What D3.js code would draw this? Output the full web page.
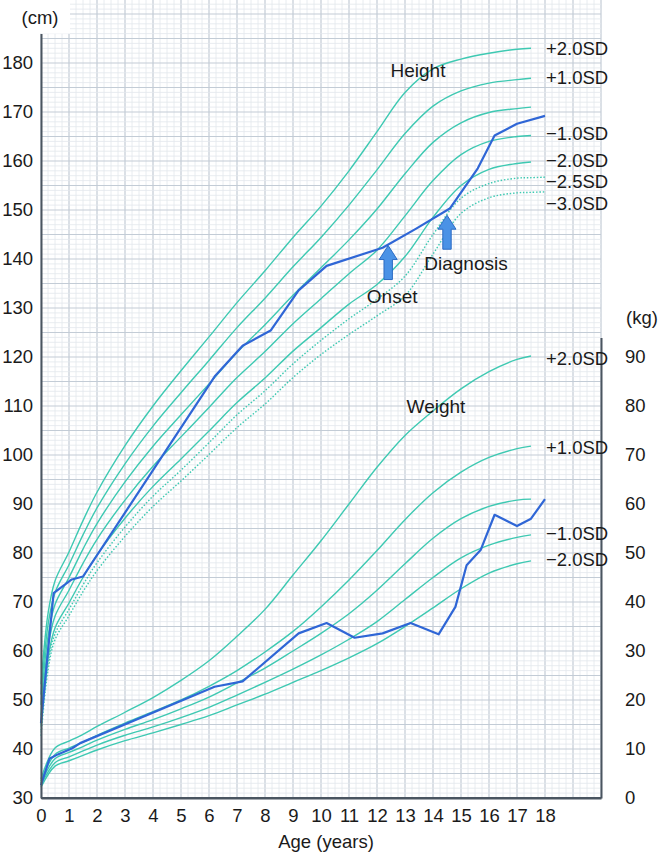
<!DOCTYPE html>
<html><head><meta charset="utf-8">
<script src="https://cdn.jsdelivr.net/npm/d3@7"></script>
<style>body{margin:0;background:#fff;}svg{display:block;font-family:"Liberation Sans",Arial,sans-serif;}</style>
</head><body><svg id="c" width="658" height="853"></svg>
<script>
// ---- data ----
const ageH = [0,0.25,0.5,1,1.5,2,3,4,5,6,7,8,9,10,11,12,13,14,15,16,17,17.5];
const ageHx = [0,0.25,0.5,1,1.5,2,3,4,5,6,7,8,9,10,11,12,13,14,15,16,17,17.5,18];
const hP2  = [53.2,67.6,74.3,80.2,86.6,92.4,101.9,110.0,117.2,124.1,131.1,137.6,144.4,150.8,158.0,166.0,174.0,178.8,180.8,182.0,182.8,183.0];
const hP1  = [51.1,65.3,71.9,77.6,83.7,89.2,98.2,105.9,112.7,119.3,126.0,132.0,138.4,144.4,151.0,158.2,165.6,171.2,174.3,175.9,176.6,176.9];
const hMean= [49.0,63.0,69.5,75.0,80.8,86.0,94.5,101.8,108.2,114.5,120.9,126.6,132.6,138.2,143.9,150.2,157.4,163.8,167.8,169.9,170.7,171.0];
const hM1  = [46.9,60.7,67.1,72.4,77.9,82.8,90.8,97.7,103.7,109.7,115.8,121.1,126.8,131.9,137.0,141.8,148.8,156.0,161.3,164.0,165.0,165.2];
const hM2  = [44.8,58.4,64.7,69.8,75.0,79.6,87.1,93.6,99.2,104.9,110.7,115.7,121.2,126.0,130.8,134.8,140.5,148.5,155.0,158.3,159.5,159.8];
const hM25 = [43.8,57.3,63.5,68.5,73.5,78.0,85.3,91.6,96.9,102.5,108.2,113.1,118.6,123.4,127.8,131.8,136.5,145.0,152.4,155.4,156.5,156.6,156.7];
const hM3  = [42.7,56.1,62.3,67.2,72.1,76.4,83.4,89.5,94.7,100.1,105.6,110.4,115.8,120.5,124.6,128.4,132.5,141.0,149.3,152.5,153.5,153.6,153.7];

const ageW = [0,0.5,1,1.5,2,3,4,5,6,7,8,9,10,11,12,13,14,15,16,17,17.5];
const wP2  = [3.9,10.2,11.6,13.0,14.6,17.5,20.5,24.0,28.0,33.0,38.5,45.5,52.5,60.0,67.5,74.0,79.0,83.5,87.0,89.5,90.2];
const wP1  = [3.4,8.9,10.2,11.4,12.8,15.3,17.6,20.0,22.8,26.0,29.8,34.0,39.0,44.5,50.5,56.8,62.3,66.5,69.5,71.3,71.8];
const wMean= [3.0,8.0,9.3,10.5,11.8,14.0,16.0,18.2,20.6,23.5,26.5,30.0,33.6,37.6,42.4,47.8,53.0,57.0,59.5,60.8,61.0];
const wM1  = [2.6,7.2,8.4,9.6,10.8,12.8,14.5,16.4,18.5,21.0,23.6,26.3,29.2,32.4,36.0,40.5,45.0,49.0,51.6,53.2,53.7];
const wM2  = [2.2,6.5,7.6,8.7,9.8,11.7,13.3,15.0,16.8,19.0,21.2,23.6,26.0,28.6,31.5,35.0,38.8,42.7,45.9,47.8,48.4];

const patAgeH = [0,0.45,1.1,1.5,6.2,7.2,8.2,9.2,10.2,12.2,13.4,14.6,15.6,16.2,17.0,18.0];
const patH    = [45.3,71.8,74.6,75.2,116.0,122.3,125.4,133.6,138.6,142.3,146.2,150.3,158.5,165.2,167.6,169.2];
const patAgeW = [0,0.3,0.6,1.1,1.4,6.2,7.2,9.2,10.2,11.2,12.2,13.2,14.2,14.8,15.2,15.7,16.2,17.0,17.5,18.0];
const patW    = [2.6,8.0,8.9,10.1,11.2,22.7,23.8,33.6,35.7,32.7,33.6,35.7,33.4,39.0,47.5,50.6,57.8,55.5,57.0,61.0];

const hLabels = ["+2.0SD","+1.0SD","\u22121.0SD","\u22122.0SD","\u22122.5SD","\u22123.0SD"];
const wLabels = ["+2.0SD","+1.0SD","\u22121.0SD","\u22122.0SD"];
const xTicks = d3.range(0,19);
const cmTicks = d3.range(30,181,10);
const kgTicks = d3.range(0,91,10);
const events = ["Onset","Diagnosis"];
const eventAge = [12.4,14.5];

// ---- layout ----
const hLabelY = [48,77,133,160,181.5,203];
const wLabelY = [358,447,533,559];
const svg = d3.select("#c");
const x = d3.scaleLinear().domain([0,20]).range([41,601]);
const y = d3.scaleLinear().domain([30,186]).range([798,33.6]);
const yk = d3.scaleLinear().domain([0,94]).range([798,798-94*4.9]);
const TEAL="#3ec9b2", BLUE="#2f66d6";
const FONT="Liberation Sans, Arial, sans-serif";

// grid
const g = svg.append("g");
d3.range(0,20.001,0.25).forEach(a=>{
  const major = Math.abs(a-Math.round(a))<1e-6;
  g.append("line").attr("x1",x(a)).attr("x2",x(a)).attr("y1",0).attr("y2",y(30))
   .attr("stroke",major?"#c3ccd6":"#e2e7ec").attr("stroke-width",major?1.2:0.8);
});
d3.range(30,193,1).forEach(c=>{
  const major = c%5===0;
  g.append("line").attr("x1",x(0)).attr("x2",x(20)).attr("y1",y(c)).attr("y2",y(c))
   .attr("stroke",major?"#c3ccd6":"#e2e7ec").attr("stroke-width",major?1.2:0.8);
});
svg.append("rect").attr("x",0).attr("y",0).attr("width",70).attr("height",y(186)).attr("fill","#fff");

// curves
const lineH = (ages)=>d3.line().x((d,i)=>x(ages[i])).y(d=>y(d)).curve(d3.curveCatmullRom);
const lineW = d3.line().x((d,i)=>x(ageW[i])).y(d=>yk(d)).curve(d3.curveCatmullRom);
[hP2,hP1,hMean,hM1,hM2].forEach(s=>{
  svg.append("path").attr("d",lineH(ageH)(s)).attr("fill","none").attr("stroke",TEAL).attr("stroke-width",1.4);
});
[hM25,hM3].forEach(s=>{
  svg.append("path").attr("d",lineH(ageHx)(s)).attr("fill","none").attr("stroke",TEAL).attr("stroke-width",1.4).attr("stroke-dasharray","1.5,1.8");
});
[wP2,wP1,wMean,wM1,wM2].forEach(s=>{
  svg.append("path").attr("d",lineW(s)).attr("fill","none").attr("stroke",TEAL).attr("stroke-width",1.4);
});
// patient
svg.append("path").attr("d",d3.line().x((d,i)=>x(patAgeH[i])).y(d=>y(d))(patH))
  .attr("fill","none").attr("stroke",BLUE).attr("stroke-width",2.2).attr("stroke-linejoin","round");
svg.append("path").attr("d",d3.line().x((d,i)=>x(patAgeW[i])).y(d=>yk(d))(patW))
  .attr("fill","none").attr("stroke",BLUE).attr("stroke-width",2.2).attr("stroke-linejoin","round");

// axes
const left = svg.append("g").attr("transform",`translate(${x(0)},0)`)
  .call(d3.axisLeft(y).tickValues(cmTicks).tickSize(0).tickPadding(8).tickSizeOuter(0));
const right = svg.append("g").attr("transform",`translate(${x(20)},0)`)
  .call(d3.axisRight(yk).tickValues(kgTicks).tickSize(0).tickPadding(24).tickSizeOuter(0));
const bottom = svg.append("g").attr("transform",`translate(0,${y(30)})`)
  .call(d3.axisBottom(x).tickValues(xTicks).tickSize(0).tickPadding(11).tickSizeOuter(0));
[left,right,bottom].forEach(a=>{
  a.select(".domain").attr("stroke","#4a5560").attr("stroke-width",2);
  a.selectAll("text").attr("font-size",18.5).attr("fill","#1a1a1a").attr("font-family",FONT);
});
bottom.append("path").attr("d",`M${x(0)},0H${x(20)}`).attr("stroke","#4a5560").attr("stroke-width",2);

const T = (t,xx,yy,anchor,fs)=>svg.append("text").text(t).attr("x",xx).attr("y",yy)
  .attr("font-size",fs||19).attr("font-family",FONT).attr("fill","#1a1a1a").attr("text-anchor",anchor||"start").attr("dominant-baseline","central");
T("(cm)",40,17,"middle",18.5);
T("(kg)",642,317,"middle",18.5);
T("Age (years)",326,841,"middle",18.5);
T("Height",418,70,"middle");
T("Weight",436,406,"middle");
hLabels.forEach((d,i)=>T(d,546,hLabelY[i],"start",18.5));
wLabels.forEach((d,i)=>T(d,546,wLabelY[i],"start",18.5));

// arrows (tip on the patient height line)
const patHAt = a=>{ const i=d3.bisectRight(patAgeH,a)-1; const t=(a-patAgeH[i])/(patAgeH[i+1]-patAgeH[i]); return patH[i]+t*(patH[i+1]-patH[i]); };
events.forEach((e,i)=>{
  const cx = x(eventAge[i]), tip = y(patHAt(eventAge[i]))+(i===0?1:5);
  const len = 34, hw = 9, sw = 4.2, hh = 14;
  const p = `M${cx},${tip} L${cx+hw},${tip+hh} L${cx+sw},${tip+hh} L${cx+sw},${tip+len} L${cx-sw},${tip+len} L${cx-sw},${tip+hh} L${cx-hw},${tip+hh} Z`;
  svg.append("path").attr("d",p).attr("fill","#4a92e6").attr("stroke","#2c6cc4").attr("stroke-width",1);
  if(i===0) T(e,cx+4,tip+51,"middle"); else T(e,cx+19,tip+48,"middle");
});
</script></body></html>
